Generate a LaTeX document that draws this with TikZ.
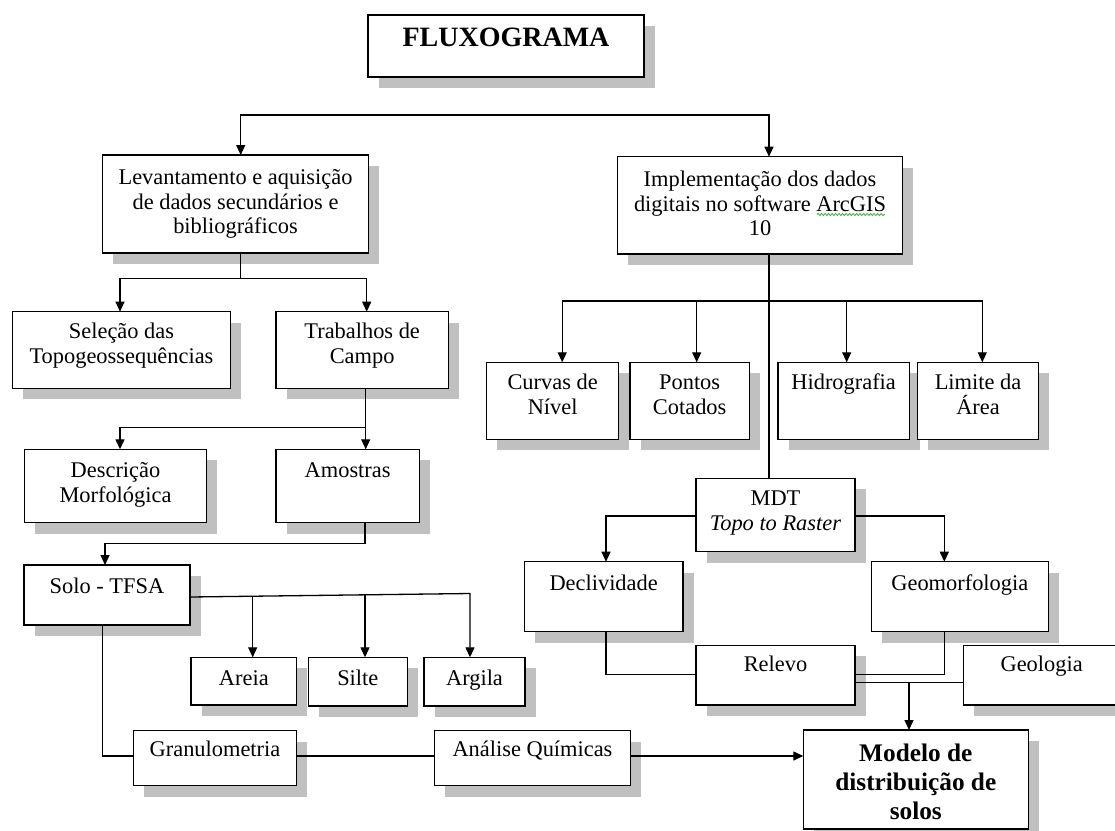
\documentclass[tikz,border=0pt]{standalone}
\usepackage{fontspec}
\setmainfont{Liberation Serif}
\usetikzlibrary{arrows.meta,calc,decorations.pathmorphing}
\definecolor{shadowc}{HTML}{C0C0C0}
\definecolor{spellg}{HTML}{3CB043}
\tikzset{
  boxst/.style={draw=black, fill=white, line width=1.3pt, inner sep=0pt, outer sep=0pt},
  txt/.style={align=center, inner sep=0pt, font=\fontsize{22.4}{24.8}\selectfont},
  ttl/.style={align=center, inner sep=0pt, font=\fontsize{28}{32}\selectfont\bfseries},
  mdl/.style={align=center, inner sep=0pt, font=\fontsize{25.3}{29}\selectfont\bfseries},
  conn/.style={draw=black, line width=1.3pt},
  arr/.style={conn, -{Triangle[length=10pt,width=9pt]}},
  arrtwo/.style={conn, {Triangle[length=10pt,width=9pt]}-{Triangle[length=10pt,width=9pt]}},
}
% #1 text style, #2 first baseline offset, #3 name, #4 x1, #5 y1, #6 x2, #7 y2, #8 text
\newcommand\bx[8]{%
  \fill[shadowc] ({#4+10.5},{#5+11}) rectangle ({#6+10.5},{#7+11});
  \node[boxst, minimum width={(#6)-(#4)}, minimum height={(#7)-(#5)}] (#3) at ({((#4)+(#6))/2},{((#5)+(#7))/2}) {};
  \node[#1, anchor=north] (#3-t) at ($(#3.north)+(0,{(#2)-20})$) {\rule{0pt}{20pt}#8};
}
\begin{document}
\begin{tikzpicture}[x=1pt,y=-1pt]
\fill[white] (0,0) rectangle (1115,830);
\useasboundingbox (0,0) rectangle (1115,830);

% boxes
\bx{ttl}{31.7}{title}{368}{15}{644}{77}{FLUXOGRAMA}
\bx{txt}{29}{lev}{102.7}{155}{368.3}{253}{Levantamento e aquisição\\de dados secundários e\\bibliográficos}
\bx{txt}{29.3}{imp}{617.7}{156.7}{902.3}{254}{Implementação dos dados\\digitais no software ArcGIS\\10}
\bx{txt}{26.7}{sel}{12.3}{311.7}{230.7}{388.3}{Seleção das\\Topogeossequências}
\bx{txt}{26.7}{trab}{276}{311.7}{448.3}{388.3}{Trabalhos de\\Campo}
\bx{txt}{28.3}{desc}{24.3}{449.3}{206.7}{522.7}{Descrição\\Morfológica}
\bx{txt}{28.3}{amo}{276}{449.3}{419.3}{522.7}{Amostras}
\bx{txt}{28.3}{solo}{24}{565}{190}{625}{Solo - TFSA}
\bx{txt}{27.7}{are}{191}{657.3}{296.7}{705}{Areia}
\bx{txt}{27.7}{sil}{308.3}{657.3}{407.3}{706}{Silte}
\bx{txt}{27.7}{arg}{424}{657.3}{525}{706}{Argila}
\bx{txt}{26}{gran}{133.3}{730.7}{296.7}{785.7}{Granulometria}
\bx{txt}{26}{anq}{434.3}{730.7}{630.7}{785.7}{Análise Químicas}
\bx{txt}{27}{curv}{486.8}{362.3}{618.5}{439.3}{Curvas de\\Nível}
\bx{txt}{27}{pont}{630}{362.3}{749.3}{439.3}{Pontos\\Cotados}
\bx{txt}{27}{hidr}{778}{362.3}{909.3}{439.3}{Hidrografia}
\bx{txt}{27}{lim}{917.3}{362.3}{1038.7}{439.3}{Limite da\\Área}
\bx{txt}{26.7}{mdt}{696}{478.3}{855}{551.7}{MDT\\\textit{Topo to Raster}}
\bx{txt}{28.3}{decl}{524.3}{561.7}{683}{631.7}{Declividade}
\bx{txt}{28.3}{geom}{871.3}{561.7}{1048.3}{631.7}{Geomorfologia}
\bx{txt}{26.3}{rel}{696}{645.3}{855}{705}{Relevo}
\bx{txt}{26.3}{geol}{963.3}{645.3}{1120}{705}{Geologia}
\bx{mdl}{31.7}{mod}{803.3}{730}{1028.3}{829}{Modelo de\\distribuição de\\solos}

% spell-check wave under ArcGIS
\draw[spellg, line width=0.8pt, decorate, decoration={snake, amplitude=1.1pt, segment length=3.5pt}] (817,214.5) -- (885,214.5);

% connectors: top
\coordinate (t1) at (240.7,115);
\coordinate (t2) at (769,115);
\draw[arrtwo] (lev.north -| t1) -- (t1) -- (t2) -- (imp.north -| t2);

% left column
\coordinate (j1) at (240.7,278.3);
\coordinate (j1a) at (120,278.3);
\coordinate (j1b) at (366.7,278.3);
\draw[conn] (lev.south -| j1) -- (j1);
\draw[arrtwo] (sel.north -| j1a) -- (j1a) -- (j1b) -- (trab.north -| j1b);

\coordinate (j2) at (365.7,427.3);
\coordinate (j2a) at (120,427.3);
\draw[conn] (trab.south -| j2) -- (j2);
\draw[arrtwo] (desc.north -| j2a) -- (j2a) -- (j2) -- (amo.north -| j2);

\coordinate (j3) at (365,543.3);
\coordinate (j3a) at (105,543.3);
\draw[arr] (amo.south -| j3) -- (j3) -- (j3a) -- (solo.north -| j3a);

\coordinate (s0) at (190,597);
\coordinate (sa) at (252.7,596.2);
\coordinate (sb) at (365,594.8);
\coordinate (sc) at (470,593.5);
\draw[arr] (solo.east |- s0) -- (sc) -- (arg.north -| sc);
\draw[arr] (sa) -- (are.north -| sa);
\draw[arr] (sb) -- (sil.north -| sb);

\coordinate (g0) at (102.7,756);
\draw[conn] (solo.south -| g0) -- (g0) -- (gran.west |- g0);
\draw[conn] (gran.east |- g0) -- (anq.west |- g0);
\draw[arr] (anq.east |- g0) -- (mod.west |- g0);

% right column
\coordinate (i0) at (769,301);
\draw[conn] (imp.south -| i0) -- (mdt.north -| i0);
\coordinate (ia) at (562.2,301);
\coordinate (ib) at (696.7,301);
\coordinate (ic) at (846.7,301);
\coordinate (id) at (982.3,301);
\draw[arrtwo] (curv.north -| ia) -- (ia) -- (id) -- (lim.north -| id);
\draw[arr] (ib) -- (pont.north -| ib);
\draw[arr] (ic) -- (hidr.north -| ic);

\coordinate (ma) at (606,516);
\coordinate (mb) at (944.3,516);
\draw[arr] (mdt.west |- ma) -- (ma) -- (decl.north -| ma);
\draw[arr] (mdt.east |- mb) -- (mb) -- (geom.north -| mb);

\coordinate (ra) at (606,674.3);
\coordinate (rb) at (944.3,674.3);
\draw[conn] (decl.south -| ra) -- (ra) -- (rel.west |- ra);
\draw[conn] (geom.south -| rb) -- (rb) -- (rel.east |- rb);
\coordinate (rc) at (909,682.7);
\draw[conn] (rel.east |- rc) -- (geol.west |- rc);
\draw[arr] (rc) -- (mod.north -| rc);
\end{tikzpicture}
\end{document}
